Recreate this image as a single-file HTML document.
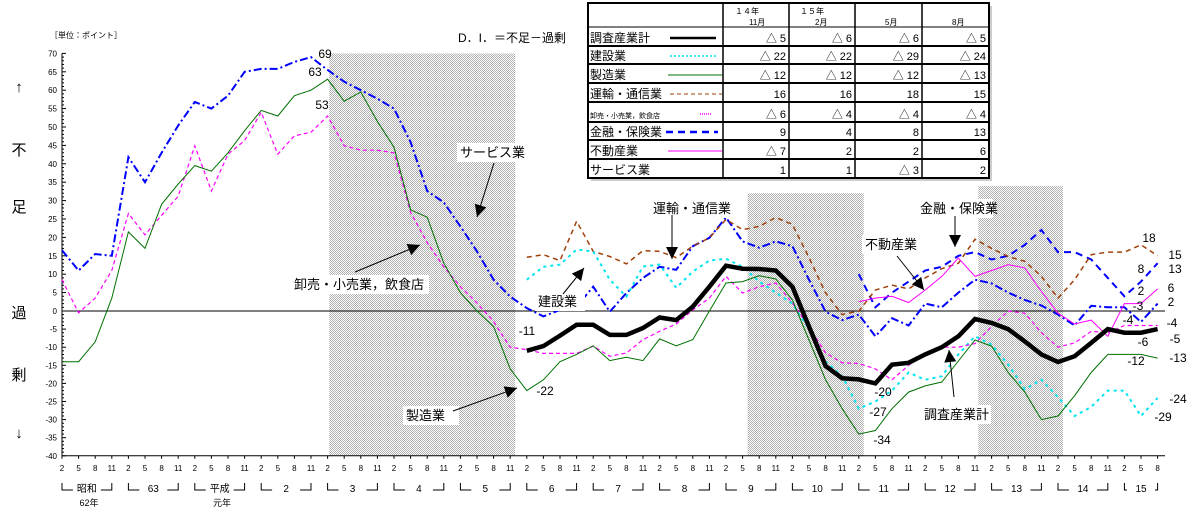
<!DOCTYPE html>
<html><head><meta charset="utf-8"><style>
html,body{margin:0;padding:0;background:#fff;}
svg{display:block;font-family:"Liberation Sans","Noto Sans CJK JP",sans-serif;}
</style></head><body>
<svg id="chart" width="1194" height="510" viewBox="0 0 1194 510" xmlns="http://www.w3.org/2000/svg">
<defs>
<pattern id="dither" width="2" height="2" patternUnits="userSpaceOnUse"><rect width="2" height="2" fill="#fff"/><rect width="1" height="1" fill="#b0b0b0"/><rect x="1" y="1" width="1" height="1" fill="#b0b0b0"/></pattern>
</defs>
<g id="shades"></g>
<g id="axes"></g>
<g id="series"></g>
<g id="annot"></g>
<g id="table"></g>
</svg>
<script>
// ---- data ----
const shadeStarts = [16.1, 41.3, 55.2];
const shadeEnds = [27.3, 48.3, 60.3];
const shadeTops = [70, 32, 34];
const yTicks = [70,65,60,55,50,45,40,35,30,25,20,15,10,5,0,-5,-10,-15,-20,-25,-30,-35,-40];
const quarterLabels = ["2","5","8","11"];
const yearLabels = ["昭和","63","平成","2","3","4","5","6","7","8","9","10","11","12","13","14","15"];
const manufacturing = [-14,-14,-8.5,3.5,21.5,17,29,34.5,39.5,38,43,49,54.5,53,58.5,60,63,57,59.5,51.5,44.5,27.5,25.5,13,5,0,-4.3,-16,-22,-19,-14,-12,-9.6,-13.7,-12.8,-13.7,-7.7,-9.6,-7.9,0,7.6,8,9.6,8.7,3,-8,-19,-27,-34,-33,-27,-22.4,-20.7,-19.6,-13.8,-8,-9.7,-17,-22.4,-30,-29,-23.4,-17,-12,-12,-12,-13];
const wholesale = [8.5,-0.5,3.5,11,26.5,20.7,26,31.2,44.9,32.6,42.6,46.3,54,42.6,47.6,48.6,53,44.9,43.7,43.7,43,26.8,18.6,12,6.6,2.2,-2.9,-10,-10.7,-11.7,-11.7,-11.7,-9.7,-12.5,-11.6,-7.9,-5.6,-3.6,0.3,3.5,9.4,4.9,6.6,7.6,2.2,-4.3,-11.6,-14.3,-14.5,-16,-19,-15,-12,-10,-10,-9,-4.3,0,-0.6,-6,-10,-8.8,-5.6,-6,-4,-4,-4];
const service = [16.5,11,15.5,15,41.8,35,43,50.4,56.8,55,58.5,65,65.8,65.8,67.7,69,65.5,62.3,60,57.7,55,45.9,32.6,29.5,23,16.2,8.5,3.9,0.8,-1.5,0.3,1.2,6.6,-0.2,4.9,9,12,11.2,17.6,19.9,25.4,18.9,17.2,18.9,17.6,8.5,-0.2,-2.5,-1,-7,-2,-4,2,1,5,8.5,7.5,5,3,1.5,-1,-4,1.4,1,1,-3,2];
const totalStart = 28;
const total = [-11,-9.7,-6.8,-3.8,-3.8,-6.6,-6.6,-4.7,-1.8,-2.5,1.2,6.6,12.3,11.5,11.4,11,6.6,-4.3,-15.2,-18.6,-18.9,-20,-14.8,-14.3,-12,-10,-7,-2.2,-3.3,-5,-8.4,-12,-14.1,-12.5,-8.8,-5,-6,-6,-5];
const transport = [14.6,15.3,13.7,24.4,16.2,14.8,12.8,16.4,16.2,14.5,17.6,19.9,24.9,22.1,23,25.4,23.5,14.5,4.9,-1,0,5.7,7,6,9,11.5,13,19.5,17,14.8,13.5,9.4,3.5,8.5,15.3,16,16,18,15];
const construction = [8.5,12,12.6,16.7,16.2,8.5,3.9,12.1,12.6,6.3,10.7,13.7,14.2,12,8,5,2,-5,-14,-18,-27,-25,-22,-17,-19,-18,-12,-7,-9.3,-14.8,-21.6,-19,-23.8,-29,-26.5,-22,-22,-29,-24];
const laterStart = 48;
const finance = [10,1,5,8,11,12,15,16,14,15,18,22,16,16,14,9,4,8,13];
const realEstate = [2.5,3.5,4,2.3,5.7,9.4,14.4,9.4,11,12.6,11.7,5.3,-0.6,-3.6,-2.5,-7,2,2,6];
const tableRows = ["調査産業計","建設業","製造業","運輸・通信業","卸売・小売業，飲食店","金融・保険業","不動産業","サービス業"];
const tableCols = ["11月","2月","5月","8月"];
const tableValues = [["△ 5","△ 6","△ 6","△ 5"],["△ 22","△ 22","△ 29","△ 24"],["△ 12","△ 12","△ 12","△ 13"],["16","16","18","15"],["△ 6","△ 4","△ 4","△ 4"],["9","4","8","13"],["△ 7","2","2","6"],["1","1","△ 3","2"]];

// ---- scales ----
const X0=62, DX=16.6;
function xs(i){return X0+DX*i;}
function ys(v){return 311 - (v>=0?3.68:3.62)*v;}
const NS="http://www.w3.org/2000/svg";
function mk(tag,attrs,parent,text){const e=document.createElementNS(NS,tag);for(const k in attrs)e.setAttribute(k,attrs[k]);if(text!==undefined)e.textContent=text;parent.appendChild(e);return e;}
const gS=document.getElementById('shades'),gA=document.getElementById('axes'),gSer=document.getElementById('series'),gN=document.getElementById('annot'),gT=document.getElementById('table');

// shading
shadeStarts.forEach((s,k)=>{
  const r=mk('rect',{x:xs(s),y:ys(shadeTops[k]),width:xs(shadeEnds[k])-xs(s),height:ys(-40)-ys(shadeTops[k]),fill:'url(#dither)'},gS);
  
  
});

// axes
const yAx=mk('line',{x1:X0,y1:ys(70),x2:X0,y2:ys(-40),stroke:'#000','stroke-width':1},gA);


const xAx=mk('line',{x1:X0,y1:ys(-40),x2:1165,y2:ys(-40),stroke:'#000','stroke-width':1},gA);


const zl=mk('line',{x1:X0,y1:311,x2:1165,y2:311,stroke:'#000','stroke-width':1},gA);


for(let v=-40;v<=70;v++){mk('line',{x1:X0,y1:ys(v),x2:X0+(v%5===0?4:2),y2:ys(v),stroke:'#000','stroke-width':1},gA);}
yTicks.forEach(v=>{const t=mk('text',{x:57,y:ys(v)+3,'font-size':8,'text-anchor':'end'},gA,String(v));
  
  });
for(let i=0;i<=66;i++){
  mk('line',{x1:xs(i),y1:ys(-40),x2:xs(i),y2:ys(-40)+3,stroke:'#000'},gA);
  const t=mk('text',{x:xs(i),y:471,'font-size':8,'text-anchor':'middle'},gA,quarterLabels[i%4]);
  
  
}
yearLabels.forEach((lab,k)=>{
  const a=xs(k*4), b=xs(Math.min(k*4+3,66));
  const mid=(a+b)/2;
  mk('path',{d:`M${a},483 V490 H${mid-14} M${b},483 V490 H${mid+14}`,stroke:'#000',fill:'none'},gA);
  const t=mk('text',{x:mid,y:492,'font-size':10,'text-anchor':'middle'},gA,lab);
  
  
});
mk('text',{x:89,y:506,'font-size':9,'text-anchor':'middle'},gA,'62年');
mk('text',{x:222,y:506,'font-size':9,'text-anchor':'middle'},gA,'元年');
["↑","不","足","過","剰","↓"].forEach((c,k)=>{const ys2=[92,155,212,318,380,438];
  const t=mk('text',{x:19,y:ys2[k],'font-size':15,'text-anchor':'middle'},gA,c);
  
  });
const u=mk('text',{x:50,y:38,'font-size':8},gA,'［単位：ポイント］');


const tt=mk('text',{x:458,y:42,'font-size':12},gA,'D．I．＝不足－過剰');



// series
function line(vals,start,style,name){
  const d=vals.map((v,k)=>(k?'L':'M')+xs(start+k).toFixed(1)+','+ys(v).toFixed(1)).join(' ');
  const p=mk('path',Object.assign({d:d,fill:'none'},style),gSer);
  
  
}
line(service,0,{stroke:'#0000ff','stroke-width':2,'stroke-dasharray':'8,3,2,3'},'service-line');
line(finance,laterStart,{stroke:'#0000ff','stroke-width':2,'stroke-dasharray':'7,5'},'finance-line');
line(transport,totalStart,{stroke:'#a0400a','stroke-width':1.5,'stroke-dasharray':'5,4'},'transport-line');
line(construction,totalStart,{stroke:'#00e5f0','stroke-width':2,'stroke-dasharray':'3,4'},'construction-line');
line(wholesale,0,{stroke:'#ff00ff','stroke-width':1.2,'stroke-dasharray':'4,3'},'wholesale-line');
line(realEstate,laterStart,{stroke:'#ff00ff','stroke-width':1},'real-estate-line');
line(manufacturing,0,{stroke:'#007000','stroke-width':1},'manufacturing-line');
line(total,totalStart,{stroke:'#000','stroke-width':4.5},'total-line');

// value labels
[["69",325,58],["63",315,76],["53",322,109],["-11",527,335],["-22",545,395],["-20",883,396],["-27",878,416],["-34",882,444],
 ["18",1149,242],["15",1175,259],["8",1141,273],["13",1175,273],["2",1141,295],["6",1171,292],["-3",1138,310],["2",1171,306],
 ["-4",1128,324],["-4",1172,327],["-6",1143,346],["-5",1175,343],["-12",1136,365],["-13",1178,362],["-24",1178,403],["-29",1163,421]
].forEach(a=>{const t=mk('text',{x:a[1],y:a[2],'font-size':12,'text-anchor':'middle'},gN,a[0]);
  
  });

// annotations
function ann(txt,tx,ty,w,x1,y1,x2,y2,name){
  mk('rect',{x:tx-3,y:ty-14,width:w,height:19,fill:'#fff'},gN);
  const t=mk('text',{x:tx,y:ty,'font-size':13},gN,txt);
  
  
  mk('line',{x1:x1,y1:y1,x2:x2,y2:y2,stroke:'#000'},gN);
  const ang=Math.atan2(y2-y1,x2-x1),L=12,W=6;
  const bx=x2-L*Math.cos(ang),by=y2-L*Math.sin(ang);
  mk('polygon',{points:`${x2},${y2} ${bx+W*Math.sin(ang)},${by-W*Math.cos(ang)} ${bx-W*Math.sin(ang)},${by+W*Math.cos(ang)}`,fill:'#000'},gN);
}
ann('サービス業',460,157,68,494,163,477,217,'service-annotation');
ann('卸売・小売業，飲食店',294,289,138,355,272,420,245,'wholesale-annotation');
ann('製造業',406,420,56,453,411,517,388,'manufacturing-annotation');
ann('建設業',538,306,50,563,294,584,268,'construction-annotation');
ann('運輸・通信業',653,213,78,672,215,672,259,'transport-annotation');
ann('不動産業',865,249,60,897,256,924,290,'real-estate-annotation');
ann('金融・保険業',920,213,76,955,216,955,247,'finance-annotation');
ann('調査産業計',924,419,70,954,397,949,350,'total-annotation');

// table
const TX=[588,723,789,855,922,989], TY=[3,27,46,64,83,102,122,140,159,178];
mk('rect',{x:591,y:6,width:401,height:175,fill:'#ccc'},gT);
const tb=mk('rect',{x:588,y:3,width:401,height:175,fill:'#fff',stroke:'#000','stroke-width':2},gT);


TY.slice(1,-1).forEach(y=>mk('line',{x1:588,y1:y,x2:989,y2:y,stroke:'#000','stroke-width':y===27?1:2},gT));
TX.slice(1,-1).forEach(x=>mk('line',{x1:x,y1:3,x2:x,y2:178,stroke:'#000','stroke-width':1.5},gT));
mk('text',{x:735,y:14,'font-size':8},gT,'１４年');
mk('text',{x:800,y:14,'font-size':8},gT,'１５年');
tableCols.forEach((c,k)=>{const t=mk('text',{x:TX[k+1]+(k<2?26:30),y:25,'font-size':8},gT,c);
  
  });
const sw=[{stroke:'#000','stroke-width':2.5},{stroke:'#00e5f0','stroke-width':1.5,'stroke-dasharray':'2,2'},{stroke:'#007000','stroke-width':1},{stroke:'#a0400a','stroke-width':1,'stroke-dasharray':'4,3'},{stroke:'#ff00ff','stroke-width':1.5,'stroke-dasharray':'1,1'},{stroke:'#0000ff','stroke-width':2.5,'stroke-dasharray':'7,5'},{stroke:'#ff00ff','stroke-width':1},null];
const swx=[[670,716],[670,716],[668,722],[670,722],[700,712],[666,718],[668,722]];
tableRows.forEach((r,k)=>{
  const yb=TY[k+2]-4;
  const t=mk('text',{x:590,y:yb,'font-size':k===4?7:12},gT,r);
  
  
  if(sw[k]) mk('line',Object.assign({x1:swx[k][0],y1:yb-4,x2:swx[k][1],y2:yb-4},sw[k]),gT);
  tableValues[k].forEach((v,c)=>{const tv=mk('text',{x:TX[c+2]-3,y:yb,'font-size':11,'text-anchor':'end'},gT,v);
    
    });
});
</script>
</body></html>
